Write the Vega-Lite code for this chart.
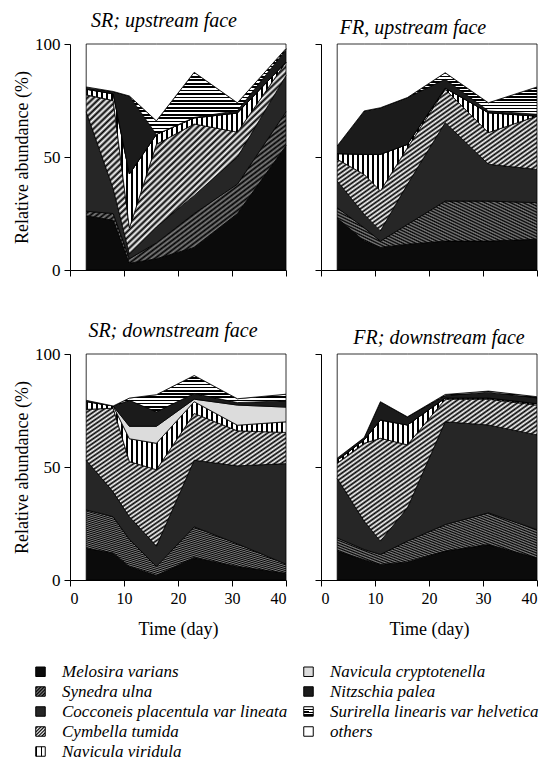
{
"$schema": "https://vega.github.io/schema/vega-lite/v6.json",
"padding": {"left": 13, "top": 11, "right": 4, "bottom": 4},
"params": [
{"name": "gSu", "value": {"gradient": "linear", "x1": 0, "y1": 0, "x2": 1, "y2": 1, "stops": [
{"offset":0,"color":"#000"},{"offset":0.008,"color":"#808080"},{"offset":0.016,"color":"#000"},{"offset":0.024,"color":"#808080"},{"offset":0.032,"color":"#000"},{"offset":0.04,"color":"#808080"},{"offset":0.048,"color":"#000"},{"offset":0.056,"color":"#808080"},{"offset":0.064,"color":"#000"},{"offset":0.072,"color":"#808080"},{"offset":0.08,"color":"#000"},{"offset":0.088,"color":"#808080"},{"offset":0.096,"color":"#000"},{"offset":0.104,"color":"#808080"},{"offset":0.112,"color":"#000"},{"offset":0.12,"color":"#808080"},{"offset":0.128,"color":"#000"},{"offset":0.136,"color":"#808080"},{"offset":0.144,"color":"#000"},{"offset":0.152,"color":"#808080"},{"offset":0.16,"color":"#000"},{"offset":0.168,"color":"#808080"},{"offset":0.176,"color":"#000"},{"offset":0.184,"color":"#808080"},{"offset":0.192,"color":"#000"},
{"offset":0.2,"color":"#808080"},{"offset":0.208,"color":"#000"},{"offset":0.216,"color":"#808080"},{"offset":0.224,"color":"#000"},{"offset":0.232,"color":"#808080"},{"offset":0.24,"color":"#000"},{"offset":0.248,"color":"#808080"},{"offset":0.256,"color":"#000"},{"offset":0.264,"color":"#808080"},{"offset":0.272,"color":"#000"},{"offset":0.28,"color":"#808080"},{"offset":0.288,"color":"#000"},{"offset":0.296,"color":"#808080"},{"offset":0.304,"color":"#000"},{"offset":0.312,"color":"#808080"},{"offset":0.32,"color":"#000"},{"offset":0.328,"color":"#808080"},{"offset":0.336,"color":"#000"},{"offset":0.344,"color":"#808080"},{"offset":0.352,"color":"#000"},{"offset":0.36,"color":"#808080"},{"offset":0.368,"color":"#000"},{"offset":0.376,"color":"#808080"},{"offset":0.384,"color":"#000"},{"offset":0.392,"color":"#808080"},
{"offset":0.4,"color":"#000"},{"offset":0.408,"color":"#808080"},{"offset":0.416,"color":"#000"},{"offset":0.424,"color":"#808080"},{"offset":0.432,"color":"#000"},{"offset":0.44,"color":"#808080"},{"offset":0.448,"color":"#000"},{"offset":0.456,"color":"#808080"},{"offset":0.464,"color":"#000"},{"offset":0.472,"color":"#808080"},{"offset":0.48,"color":"#000"},{"offset":0.488,"color":"#808080"},{"offset":0.496,"color":"#000"},{"offset":0.504,"color":"#808080"},{"offset":0.512,"color":"#000"},{"offset":0.52,"color":"#808080"},{"offset":0.528,"color":"#000"},{"offset":0.536,"color":"#808080"},{"offset":0.544,"color":"#000"},{"offset":0.552,"color":"#808080"},{"offset":0.56,"color":"#000"},{"offset":0.568,"color":"#808080"},{"offset":0.576,"color":"#000"},{"offset":0.584,"color":"#808080"},{"offset":0.592,"color":"#000"},
{"offset":0.6,"color":"#808080"},{"offset":0.608,"color":"#000"},{"offset":0.616,"color":"#808080"},{"offset":0.624,"color":"#000"},{"offset":0.632,"color":"#808080"},{"offset":0.64,"color":"#000"},{"offset":0.648,"color":"#808080"},{"offset":0.656,"color":"#000"},{"offset":0.664,"color":"#808080"},{"offset":0.672,"color":"#000"},{"offset":0.68,"color":"#808080"},{"offset":0.688,"color":"#000"},{"offset":0.696,"color":"#808080"},{"offset":0.704,"color":"#000"},{"offset":0.712,"color":"#808080"},{"offset":0.72,"color":"#000"},{"offset":0.728,"color":"#808080"},{"offset":0.736,"color":"#000"},{"offset":0.744,"color":"#808080"},{"offset":0.752,"color":"#000"},{"offset":0.76,"color":"#808080"},{"offset":0.768,"color":"#000"},{"offset":0.776,"color":"#808080"},{"offset":0.784,"color":"#000"},{"offset":0.792,"color":"#808080"},
{"offset":0.8,"color":"#000"},{"offset":0.808,"color":"#808080"},{"offset":0.816,"color":"#000"},{"offset":0.824,"color":"#808080"},{"offset":0.832,"color":"#000"},{"offset":0.84,"color":"#808080"},{"offset":0.848,"color":"#000"},{"offset":0.856,"color":"#808080"},{"offset":0.864,"color":"#000"},{"offset":0.872,"color":"#808080"},{"offset":0.88,"color":"#000"},{"offset":0.888,"color":"#808080"},{"offset":0.896,"color":"#000"},{"offset":0.904,"color":"#808080"},{"offset":0.912,"color":"#000"},{"offset":0.92,"color":"#808080"},{"offset":0.928,"color":"#000"},{"offset":0.936,"color":"#808080"},{"offset":0.944,"color":"#000"},{"offset":0.952,"color":"#808080"},{"offset":0.96,"color":"#000"},{"offset":0.968,"color":"#808080"},{"offset":0.976,"color":"#000"},{"offset":0.984,"color":"#808080"},{"offset":0.992,"color":"#000"},
{"offset":1,"color":"#808080"}
]}},
{"name": "gCt", "value": {"gradient": "linear", "x1": 0, "y1": 0, "x2": 1, "y2": 1, "stops": [
{"offset":0,"color":"#000"},{"offset":0.008,"color":"#fff"},{"offset":0.016,"color":"#000"},{"offset":0.024,"color":"#fff"},{"offset":0.032,"color":"#000"},{"offset":0.04,"color":"#fff"},{"offset":0.048,"color":"#000"},{"offset":0.056,"color":"#fff"},{"offset":0.064,"color":"#000"},{"offset":0.072,"color":"#fff"},{"offset":0.08,"color":"#000"},{"offset":0.088,"color":"#fff"},{"offset":0.096,"color":"#000"},{"offset":0.104,"color":"#fff"},{"offset":0.112,"color":"#000"},{"offset":0.12,"color":"#fff"},{"offset":0.128,"color":"#000"},{"offset":0.136,"color":"#fff"},{"offset":0.144,"color":"#000"},{"offset":0.152,"color":"#fff"},{"offset":0.16,"color":"#000"},{"offset":0.168,"color":"#fff"},{"offset":0.176,"color":"#000"},{"offset":0.184,"color":"#fff"},{"offset":0.192,"color":"#000"},
{"offset":0.2,"color":"#fff"},{"offset":0.208,"color":"#000"},{"offset":0.216,"color":"#fff"},{"offset":0.224,"color":"#000"},{"offset":0.232,"color":"#fff"},{"offset":0.24,"color":"#000"},{"offset":0.248,"color":"#fff"},{"offset":0.256,"color":"#000"},{"offset":0.264,"color":"#fff"},{"offset":0.272,"color":"#000"},{"offset":0.28,"color":"#fff"},{"offset":0.288,"color":"#000"},{"offset":0.296,"color":"#fff"},{"offset":0.304,"color":"#000"},{"offset":0.312,"color":"#fff"},{"offset":0.32,"color":"#000"},{"offset":0.328,"color":"#fff"},{"offset":0.336,"color":"#000"},{"offset":0.344,"color":"#fff"},{"offset":0.352,"color":"#000"},{"offset":0.36,"color":"#fff"},{"offset":0.368,"color":"#000"},{"offset":0.376,"color":"#fff"},{"offset":0.384,"color":"#000"},{"offset":0.392,"color":"#fff"},
{"offset":0.4,"color":"#000"},{"offset":0.408,"color":"#fff"},{"offset":0.416,"color":"#000"},{"offset":0.424,"color":"#fff"},{"offset":0.432,"color":"#000"},{"offset":0.44,"color":"#fff"},{"offset":0.448,"color":"#000"},{"offset":0.456,"color":"#fff"},{"offset":0.464,"color":"#000"},{"offset":0.472,"color":"#fff"},{"offset":0.48,"color":"#000"},{"offset":0.488,"color":"#fff"},{"offset":0.496,"color":"#000"},{"offset":0.504,"color":"#fff"},{"offset":0.512,"color":"#000"},{"offset":0.52,"color":"#fff"},{"offset":0.528,"color":"#000"},{"offset":0.536,"color":"#fff"},{"offset":0.544,"color":"#000"},{"offset":0.552,"color":"#fff"},{"offset":0.56,"color":"#000"},{"offset":0.568,"color":"#fff"},{"offset":0.576,"color":"#000"},{"offset":0.584,"color":"#fff"},{"offset":0.592,"color":"#000"},
{"offset":0.6,"color":"#fff"},{"offset":0.608,"color":"#000"},{"offset":0.616,"color":"#fff"},{"offset":0.624,"color":"#000"},{"offset":0.632,"color":"#fff"},{"offset":0.64,"color":"#000"},{"offset":0.648,"color":"#fff"},{"offset":0.656,"color":"#000"},{"offset":0.664,"color":"#fff"},{"offset":0.672,"color":"#000"},{"offset":0.68,"color":"#fff"},{"offset":0.688,"color":"#000"},{"offset":0.696,"color":"#fff"},{"offset":0.704,"color":"#000"},{"offset":0.712,"color":"#fff"},{"offset":0.72,"color":"#000"},{"offset":0.728,"color":"#fff"},{"offset":0.736,"color":"#000"},{"offset":0.744,"color":"#fff"},{"offset":0.752,"color":"#000"},{"offset":0.76,"color":"#fff"},{"offset":0.768,"color":"#000"},{"offset":0.776,"color":"#fff"},{"offset":0.784,"color":"#000"},{"offset":0.792,"color":"#fff"},
{"offset":0.8,"color":"#000"},{"offset":0.808,"color":"#fff"},{"offset":0.816,"color":"#000"},{"offset":0.824,"color":"#fff"},{"offset":0.832,"color":"#000"},{"offset":0.84,"color":"#fff"},{"offset":0.848,"color":"#000"},{"offset":0.856,"color":"#fff"},{"offset":0.864,"color":"#000"},{"offset":0.872,"color":"#fff"},{"offset":0.88,"color":"#000"},{"offset":0.888,"color":"#fff"},{"offset":0.896,"color":"#000"},{"offset":0.904,"color":"#fff"},{"offset":0.912,"color":"#000"},{"offset":0.92,"color":"#fff"},{"offset":0.928,"color":"#000"},{"offset":0.936,"color":"#fff"},{"offset":0.944,"color":"#000"},{"offset":0.952,"color":"#fff"},{"offset":0.96,"color":"#000"},{"offset":0.968,"color":"#fff"},{"offset":0.976,"color":"#000"},{"offset":0.984,"color":"#fff"},{"offset":0.992,"color":"#000"},
{"offset":1,"color":"#fff"}
]}},
{"name": "gNv", "value": {"gradient": "linear", "x1": 0, "y1": 0, "x2": 1, "y2": 0, "stops": [
{"offset":0,"color":"#000"},{"offset":0.008,"color":"#000"},{"offset":0.008,"color":"#fff"},{"offset":0.025,"color":"#fff"},{"offset":0.025,"color":"#000"},{"offset":0.033,"color":"#000"},{"offset":0.033,"color":"#fff"},{"offset":0.05,"color":"#fff"},
{"offset":0.05,"color":"#000"},{"offset":0.058,"color":"#000"},{"offset":0.058,"color":"#fff"},{"offset":0.075,"color":"#fff"},{"offset":0.075,"color":"#000"},{"offset":0.083,"color":"#000"},{"offset":0.083,"color":"#fff"},{"offset":0.1,"color":"#fff"},
{"offset":0.1,"color":"#000"},{"offset":0.108,"color":"#000"},{"offset":0.108,"color":"#fff"},{"offset":0.125,"color":"#fff"},{"offset":0.125,"color":"#000"},{"offset":0.133,"color":"#000"},{"offset":0.133,"color":"#fff"},{"offset":0.15,"color":"#fff"},
{"offset":0.15,"color":"#000"},{"offset":0.158,"color":"#000"},{"offset":0.158,"color":"#fff"},{"offset":0.175,"color":"#fff"},{"offset":0.175,"color":"#000"},{"offset":0.183,"color":"#000"},{"offset":0.183,"color":"#fff"},{"offset":0.2,"color":"#fff"},
{"offset":0.2,"color":"#000"},{"offset":0.208,"color":"#000"},{"offset":0.208,"color":"#fff"},{"offset":0.225,"color":"#fff"},{"offset":0.225,"color":"#000"},{"offset":0.233,"color":"#000"},{"offset":0.233,"color":"#fff"},{"offset":0.25,"color":"#fff"},
{"offset":0.25,"color":"#000"},{"offset":0.258,"color":"#000"},{"offset":0.258,"color":"#fff"},{"offset":0.275,"color":"#fff"},{"offset":0.275,"color":"#000"},{"offset":0.283,"color":"#000"},{"offset":0.283,"color":"#fff"},{"offset":0.3,"color":"#fff"},
{"offset":0.3,"color":"#000"},{"offset":0.308,"color":"#000"},{"offset":0.308,"color":"#fff"},{"offset":0.325,"color":"#fff"},{"offset":0.325,"color":"#000"},{"offset":0.333,"color":"#000"},{"offset":0.333,"color":"#fff"},{"offset":0.35,"color":"#fff"},
{"offset":0.35,"color":"#000"},{"offset":0.358,"color":"#000"},{"offset":0.358,"color":"#fff"},{"offset":0.375,"color":"#fff"},{"offset":0.375,"color":"#000"},{"offset":0.383,"color":"#000"},{"offset":0.383,"color":"#fff"},{"offset":0.4,"color":"#fff"},
{"offset":0.4,"color":"#000"},{"offset":0.408,"color":"#000"},{"offset":0.408,"color":"#fff"},{"offset":0.425,"color":"#fff"},{"offset":0.425,"color":"#000"},{"offset":0.433,"color":"#000"},{"offset":0.433,"color":"#fff"},{"offset":0.45,"color":"#fff"},
{"offset":0.45,"color":"#000"},{"offset":0.458,"color":"#000"},{"offset":0.458,"color":"#fff"},{"offset":0.475,"color":"#fff"},{"offset":0.475,"color":"#000"},{"offset":0.483,"color":"#000"},{"offset":0.483,"color":"#fff"},{"offset":0.5,"color":"#fff"},
{"offset":0.5,"color":"#000"},{"offset":0.508,"color":"#000"},{"offset":0.508,"color":"#fff"},{"offset":0.525,"color":"#fff"},{"offset":0.525,"color":"#000"},{"offset":0.533,"color":"#000"},{"offset":0.533,"color":"#fff"},{"offset":0.55,"color":"#fff"},
{"offset":0.55,"color":"#000"},{"offset":0.558,"color":"#000"},{"offset":0.558,"color":"#fff"},{"offset":0.575,"color":"#fff"},{"offset":0.575,"color":"#000"},{"offset":0.583,"color":"#000"},{"offset":0.583,"color":"#fff"},{"offset":0.6,"color":"#fff"},
{"offset":0.6,"color":"#000"},{"offset":0.608,"color":"#000"},{"offset":0.608,"color":"#fff"},{"offset":0.625,"color":"#fff"},{"offset":0.625,"color":"#000"},{"offset":0.633,"color":"#000"},{"offset":0.633,"color":"#fff"},{"offset":0.65,"color":"#fff"},
{"offset":0.65,"color":"#000"},{"offset":0.658,"color":"#000"},{"offset":0.658,"color":"#fff"},{"offset":0.675,"color":"#fff"},{"offset":0.675,"color":"#000"},{"offset":0.683,"color":"#000"},{"offset":0.683,"color":"#fff"},{"offset":0.7,"color":"#fff"},
{"offset":0.7,"color":"#000"},{"offset":0.708,"color":"#000"},{"offset":0.708,"color":"#fff"},{"offset":0.725,"color":"#fff"},{"offset":0.725,"color":"#000"},{"offset":0.733,"color":"#000"},{"offset":0.733,"color":"#fff"},{"offset":0.75,"color":"#fff"},
{"offset":0.75,"color":"#000"},{"offset":0.758,"color":"#000"},{"offset":0.758,"color":"#fff"},{"offset":0.775,"color":"#fff"},{"offset":0.775,"color":"#000"},{"offset":0.783,"color":"#000"},{"offset":0.783,"color":"#fff"},{"offset":0.8,"color":"#fff"},
{"offset":0.8,"color":"#000"},{"offset":0.808,"color":"#000"},{"offset":0.808,"color":"#fff"},{"offset":0.825,"color":"#fff"},{"offset":0.825,"color":"#000"},{"offset":0.833,"color":"#000"},{"offset":0.833,"color":"#fff"},{"offset":0.85,"color":"#fff"},
{"offset":0.85,"color":"#000"},{"offset":0.858,"color":"#000"},{"offset":0.858,"color":"#fff"},{"offset":0.875,"color":"#fff"},{"offset":0.875,"color":"#000"},{"offset":0.883,"color":"#000"},{"offset":0.883,"color":"#fff"},{"offset":0.9,"color":"#fff"},
{"offset":0.9,"color":"#000"},{"offset":0.908,"color":"#000"},{"offset":0.908,"color":"#fff"},{"offset":0.925,"color":"#fff"},{"offset":0.925,"color":"#000"},{"offset":0.933,"color":"#000"},{"offset":0.933,"color":"#fff"},{"offset":0.95,"color":"#fff"},
{"offset":0.95,"color":"#000"},{"offset":0.958,"color":"#000"},{"offset":0.958,"color":"#fff"},{"offset":0.975,"color":"#fff"},{"offset":0.975,"color":"#000"},{"offset":0.983,"color":"#000"},{"offset":0.983,"color":"#fff"},{"offset":1,"color":"#fff"}
]}},
{"name": "gSl", "value": {"gradient": "linear", "x1": 0, "y1": 0, "x2": 0.0001, "y2": 1, "stops": [
{"offset":0,"color":"#000"},{"offset":0.02,"color":"#000"},{"offset":0.02,"color":"#fff"},{"offset":0.04,"color":"#fff"},{"offset":0.04,"color":"#000"},{"offset":0.06,"color":"#000"},{"offset":0.06,"color":"#fff"},{"offset":0.08,"color":"#fff"},{"offset":0.08,"color":"#000"},{"offset":0.1,"color":"#000"},
{"offset":0.1,"color":"#fff"},{"offset":0.12,"color":"#fff"},{"offset":0.12,"color":"#000"},{"offset":0.14,"color":"#000"},{"offset":0.14,"color":"#fff"},{"offset":0.16,"color":"#fff"},{"offset":0.16,"color":"#000"},{"offset":0.18,"color":"#000"},{"offset":0.18,"color":"#fff"},{"offset":0.2,"color":"#fff"},
{"offset":0.2,"color":"#000"},{"offset":0.22,"color":"#000"},{"offset":0.22,"color":"#fff"},{"offset":0.24,"color":"#fff"},{"offset":0.24,"color":"#000"},{"offset":0.26,"color":"#000"},{"offset":0.26,"color":"#fff"},{"offset":0.28,"color":"#fff"},{"offset":0.28,"color":"#000"},{"offset":0.3,"color":"#000"},
{"offset":0.3,"color":"#fff"},{"offset":0.32,"color":"#fff"},{"offset":0.32,"color":"#000"},{"offset":0.34,"color":"#000"},{"offset":0.34,"color":"#fff"},{"offset":0.36,"color":"#fff"},{"offset":0.36,"color":"#000"},{"offset":0.38,"color":"#000"},{"offset":0.38,"color":"#fff"},{"offset":0.4,"color":"#fff"},
{"offset":0.4,"color":"#000"},{"offset":0.42,"color":"#000"},{"offset":0.42,"color":"#fff"},{"offset":0.44,"color":"#fff"},{"offset":0.44,"color":"#000"},{"offset":0.46,"color":"#000"},{"offset":0.46,"color":"#fff"},{"offset":0.48,"color":"#fff"},{"offset":0.48,"color":"#000"},{"offset":0.5,"color":"#000"},
{"offset":0.5,"color":"#fff"},{"offset":0.52,"color":"#fff"},{"offset":0.52,"color":"#000"},{"offset":0.54,"color":"#000"},{"offset":0.54,"color":"#fff"},{"offset":0.56,"color":"#fff"},{"offset":0.56,"color":"#000"},{"offset":0.58,"color":"#000"},{"offset":0.58,"color":"#fff"},{"offset":0.6,"color":"#fff"},
{"offset":0.6,"color":"#000"},{"offset":0.62,"color":"#000"},{"offset":0.62,"color":"#fff"},{"offset":0.64,"color":"#fff"},{"offset":0.64,"color":"#000"},{"offset":0.66,"color":"#000"},{"offset":0.66,"color":"#fff"},{"offset":0.68,"color":"#fff"},{"offset":0.68,"color":"#000"},{"offset":0.7,"color":"#000"},
{"offset":0.7,"color":"#fff"},{"offset":0.72,"color":"#fff"},{"offset":0.72,"color":"#000"},{"offset":0.74,"color":"#000"},{"offset":0.74,"color":"#fff"},{"offset":0.76,"color":"#fff"},{"offset":0.76,"color":"#000"},{"offset":0.78,"color":"#000"},{"offset":0.78,"color":"#fff"},{"offset":0.8,"color":"#fff"},
{"offset":0.8,"color":"#000"},{"offset":0.82,"color":"#000"},{"offset":0.82,"color":"#fff"},{"offset":0.84,"color":"#fff"},{"offset":0.84,"color":"#000"},{"offset":0.86,"color":"#000"},{"offset":0.86,"color":"#fff"},{"offset":0.88,"color":"#fff"},{"offset":0.88,"color":"#000"},{"offset":0.9,"color":"#000"},
{"offset":0.9,"color":"#fff"},{"offset":0.92,"color":"#fff"},{"offset":0.92,"color":"#000"},{"offset":0.94,"color":"#000"},{"offset":0.94,"color":"#fff"},{"offset":0.96,"color":"#fff"},{"offset":0.96,"color":"#000"},{"offset":0.98,"color":"#000"},{"offset":0.98,"color":"#fff"},{"offset":1,"color":"#fff"}
]}}
],
"datasets": {
"sp": [
{"s":"Mv","name":"Melosira varians","rank":1},
{"s":"Su","name":"Synedra ulna","rank":2},
{"s":"Cp","name":"Cocconeis placentula var lineata","rank":3},
{"s":"Ct","name":"Cymbella tumida","rank":4},
{"s":"Nv","name":"Navicula viridula","rank":5},
{"s":"Nc","name":"Navicula cryptotenella","rank":6},
{"s":"Np","name":"Nitzschia palea","rank":7},
{"s":"Sl","name":"Surirella linearis var helvetica","rank":8},
{"s":"ot","name":"others","rank":9}
],
"ab": [
{"p":"SRu","d":3,"s":"Mv","v":24},{"p":"SRu","d":8,"s":"Mv","v":22},{"p":"SRu","d":11,"s":"Mv","v":3},{"p":"SRu","d":16,"s":"Mv","v":5},{"p":"SRu","d":23,"s":"Mv","v":10},{"p":"SRu","d":31,"s":"Mv","v":25},{"p":"SRu","d":40,"s":"Mv","v":55},
{"p":"SRu","d":3,"s":"Su","v":2},{"p":"SRu","d":8,"s":"Su","v":3},{"p":"SRu","d":11,"s":"Su","v":2},{"p":"SRu","d":16,"s":"Su","v":7},{"p":"SRu","d":23,"s":"Su","v":15},{"p":"SRu","d":31,"s":"Su","v":13},{"p":"SRu","d":40,"s":"Su","v":15},
{"p":"SRu","d":3,"s":"Cp","v":44},{"p":"SRu","d":8,"s":"Cp","v":11},{"p":"SRu","d":11,"s":"Cp","v":2},{"p":"SRu","d":16,"s":"Cp","v":7},{"p":"SRu","d":23,"s":"Cp","v":8},{"p":"SRu","d":31,"s":"Cp","v":12},{"p":"SRu","d":40,"s":"Cp","v":16},
{"p":"SRu","d":3,"s":"Ct","v":7.5},{"p":"SRu","d":8,"s":"Ct","v":39},{"p":"SRu","d":11,"s":"Ct","v":11.6},{"p":"SRu","d":16,"s":"Ct","v":36.6},{"p":"SRu","d":23,"s":"Ct","v":31.6},{"p":"SRu","d":31,"s":"Ct","v":11},{"p":"SRu","d":40,"s":"Ct","v":6},
{"p":"SRu","d":3,"s":"Nv","v":2.5},{"p":"SRu","d":8,"s":"Nv","v":3},{"p":"SRu","d":11,"s":"Nv","v":23.9},{"p":"SRu","d":16,"s":"Nv","v":4.4},{"p":"SRu","d":23,"s":"Nv","v":2.7},{"p":"SRu","d":31,"s":"Nv","v":8.5},{"p":"SRu","d":40,"s":"Nv","v":0},
{"p":"SRu","d":3,"s":"Nc","v":0},{"p":"SRu","d":8,"s":"Nc","v":0},{"p":"SRu","d":11,"s":"Nc","v":0},{"p":"SRu","d":16,"s":"Nc","v":0},{"p":"SRu","d":23,"s":"Nc","v":0},{"p":"SRu","d":31,"s":"Nc","v":0},{"p":"SRu","d":40,"s":"Nc","v":0},
{"p":"SRu","d":3,"s":"Np","v":0.5},{"p":"SRu","d":8,"s":"Np","v":1},{"p":"SRu","d":11,"s":"Np","v":34.5},{"p":"SRu","d":16,"s":"Np","v":0},{"p":"SRu","d":23,"s":"Np","v":0.2},{"p":"SRu","d":31,"s":"Np","v":1},{"p":"SRu","d":40,"s":"Np","v":5.5},
{"p":"SRu","d":3,"s":"Sl","v":0.5},{"p":"SRu","d":8,"s":"Sl","v":0},{"p":"SRu","d":11,"s":"Sl","v":0},{"p":"SRu","d":16,"s":"Sl","v":6},{"p":"SRu","d":23,"s":"Sl","v":20},{"p":"SRu","d":31,"s":"Sl","v":3.5},{"p":"SRu","d":40,"s":"Sl","v":0.5},
{"p":"SRu","d":3,"s":"ot","v":19},{"p":"SRu","d":8,"s":"ot","v":21},{"p":"SRu","d":11,"s":"ot","v":23},{"p":"SRu","d":16,"s":"ot","v":34},{"p":"SRu","d":23,"s":"ot","v":12.5},{"p":"SRu","d":31,"s":"ot","v":26},{"p":"SRu","d":40,"s":"ot","v":2},
{"p":"FRu","d":3,"s":"Mv","v":23},{"p":"FRu","d":8,"s":"Mv","v":12.8},{"p":"FRu","d":11,"s":"Mv","v":10},{"p":"FRu","d":16,"s":"Mv","v":11.4},{"p":"FRu","d":23,"s":"Mv","v":12.8},{"p":"FRu","d":31,"s":"Mv","v":12.8},{"p":"FRu","d":40,"s":"Mv","v":13.6},
{"p":"FRu","d":3,"s":"Su","v":4.6},{"p":"FRu","d":8,"s":"Su","v":5.9},{"p":"FRu","d":11,"s":"Su","v":2.8},{"p":"FRu","d":16,"s":"Su","v":8.8},{"p":"FRu","d":23,"s":"Su","v":17.7},{"p":"FRu","d":31,"s":"Su","v":17.7},{"p":"FRu","d":40,"s":"Su","v":16.2},
{"p":"FRu","d":3,"s":"Cp","v":11.8},{"p":"FRu","d":8,"s":"Cp","v":5.9},{"p":"FRu","d":11,"s":"Cp","v":4.5},{"p":"FRu","d":16,"s":"Cp","v":17.7},{"p":"FRu","d":23,"s":"Cp","v":34.7},{"p":"FRu","d":31,"s":"Cp","v":16.3},{"p":"FRu","d":40,"s":"Cp","v":14.7},
{"p":"FRu","d":3,"s":"Ct","v":9.6},{"p":"FRu","d":8,"s":"Ct","v":17.7},{"p":"FRu","d":11,"s":"Ct","v":17.7},{"p":"FRu","d":16,"s":"Ct","v":16.2},{"p":"FRu","d":23,"s":"Ct","v":14.8},{"p":"FRu","d":31,"s":"Ct","v":14},{"p":"FRu","d":40,"s":"Ct","v":23.6},
{"p":"FRu","d":3,"s":"Nv","v":2.5},{"p":"FRu","d":8,"s":"Nv","v":8.9},{"p":"FRu","d":11,"s":"Nv","v":16.2},{"p":"FRu","d":16,"s":"Nv","v":1.5},{"p":"FRu","d":23,"s":"Nv","v":0.5},{"p":"FRu","d":31,"s":"Nv","v":8.8},{"p":"FRu","d":40,"s":"Nv","v":0},
{"p":"FRu","d":3,"s":"Nc","v":0},{"p":"FRu","d":8,"s":"Nc","v":0},{"p":"FRu","d":11,"s":"Nc","v":0},{"p":"FRu","d":16,"s":"Nc","v":0},{"p":"FRu","d":23,"s":"Nc","v":0},{"p":"FRu","d":31,"s":"Nc","v":0},{"p":"FRu","d":40,"s":"Nc","v":0},
{"p":"FRu","d":3,"s":"Np","v":3.4},{"p":"FRu","d":8,"s":"Np","v":19.2},{"p":"FRu","d":11,"s":"Np","v":20.6},{"p":"FRu","d":16,"s":"Np","v":20.7},{"p":"FRu","d":23,"s":"Np","v":3.9},{"p":"FRu","d":31,"s":"Np","v":0.8},{"p":"FRu","d":40,"s":"Np","v":0.8},
{"p":"FRu","d":3,"s":"Sl","v":0},{"p":"FRu","d":8,"s":"Sl","v":0},{"p":"FRu","d":11,"s":"Sl","v":0},{"p":"FRu","d":16,"s":"Sl","v":0},{"p":"FRu","d":23,"s":"Sl","v":2.9},{"p":"FRu","d":31,"s":"Sl","v":3.6},{"p":"FRu","d":40,"s":"Sl","v":12.1},
{"p":"FRu","d":3,"s":"ot","v":45.1},{"p":"FRu","d":8,"s":"ot","v":29.6},{"p":"FRu","d":11,"s":"ot","v":28.2},{"p":"FRu","d":16,"s":"ot","v":23.7},{"p":"FRu","d":23,"s":"ot","v":12.7},{"p":"FRu","d":31,"s":"ot","v":26},{"p":"FRu","d":40,"s":"ot","v":19},
{"p":"SRd","d":3,"s":"Mv","v":14},{"p":"SRd","d":8,"s":"Mv","v":12},{"p":"SRd","d":11,"s":"Mv","v":6},{"p":"SRd","d":16,"s":"Mv","v":2},{"p":"SRd","d":23,"s":"Mv","v":10},{"p":"SRd","d":31,"s":"Mv","v":6},{"p":"SRd","d":40,"s":"Mv","v":3},
{"p":"SRd","d":3,"s":"Su","v":17},{"p":"SRd","d":8,"s":"Su","v":16},{"p":"SRd","d":11,"s":"Su","v":12},{"p":"SRd","d":16,"s":"Su","v":4},{"p":"SRd","d":23,"s":"Su","v":13.5},{"p":"SRd","d":31,"s":"Su","v":10},{"p":"SRd","d":40,"s":"Su","v":4},
{"p":"SRd","d":3,"s":"Cp","v":22},{"p":"SRd","d":8,"s":"Cp","v":11},{"p":"SRd","d":11,"s":"Cp","v":10},{"p":"SRd","d":16,"s":"Cp","v":9},{"p":"SRd","d":23,"s":"Cp","v":29.5},{"p":"SRd","d":31,"s":"Cp","v":34.5},{"p":"SRd","d":40,"s":"Cp","v":44.5},
{"p":"SRd","d":3,"s":"Ct","v":22.5},{"p":"SRd","d":8,"s":"Ct","v":37},{"p":"SRd","d":11,"s":"Ct","v":24.4},{"p":"SRd","d":16,"s":"Ct","v":33.8},{"p":"SRd","d":23,"s":"Ct","v":20.7},{"p":"SRd","d":31,"s":"Ct","v":15.5},{"p":"SRd","d":40,"s":"Ct","v":13.8},
{"p":"SRd","d":3,"s":"Nv","v":3.5},{"p":"SRd","d":8,"s":"Nv","v":1},{"p":"SRd","d":11,"s":"Nv","v":10.1},{"p":"SRd","d":16,"s":"Nv","v":11.7},{"p":"SRd","d":23,"s":"Nv","v":5.2},{"p":"SRd","d":31,"s":"Nv","v":2.5},{"p":"SRd","d":40,"s":"Nv","v":4.7},
{"p":"SRd","d":3,"s":"Nc","v":0},{"p":"SRd","d":8,"s":"Nc","v":0},{"p":"SRd","d":11,"s":"Nc","v":5.5},{"p":"SRd","d":16,"s":"Nc","v":7.5},{"p":"SRd","d":23,"s":"Nc","v":1.1},{"p":"SRd","d":31,"s":"Nc","v":8.9},{"p":"SRd","d":40,"s":"Nc","v":6.5},
{"p":"SRd","d":3,"s":"Np","v":0.2},{"p":"SRd","d":8,"s":"Np","v":0},{"p":"SRd","d":11,"s":"Np","v":11.5},{"p":"SRd","d":16,"s":"Np","v":6.4},{"p":"SRd","d":23,"s":"Np","v":2.5},{"p":"SRd","d":31,"s":"Np","v":1.1},{"p":"SRd","d":40,"s":"Np","v":2.8},
{"p":"SRd","d":3,"s":"Sl","v":0.3},{"p":"SRd","d":8,"s":"Sl","v":0},{"p":"SRd","d":11,"s":"Sl","v":1},{"p":"SRd","d":16,"s":"Sl","v":7.6},{"p":"SRd","d":23,"s":"Sl","v":8},{"p":"SRd","d":31,"s":"Sl","v":1.7},{"p":"SRd","d":40,"s":"Sl","v":2.9},
{"p":"SRd","d":3,"s":"ot","v":20.5},{"p":"SRd","d":8,"s":"ot","v":23},{"p":"SRd","d":11,"s":"ot","v":19.5},{"p":"SRd","d":16,"s":"ot","v":18},{"p":"SRd","d":23,"s":"ot","v":9.5},{"p":"SRd","d":31,"s":"ot","v":19.8},{"p":"SRd","d":40,"s":"ot","v":17.8},
{"p":"FRd","d":3,"s":"Mv","v":12.8},{"p":"FRd","d":8,"s":"Mv","v":9},{"p":"FRd","d":11,"s":"Mv","v":6.9},{"p":"FRd","d":16,"s":"Mv","v":8},{"p":"FRd","d":23,"s":"Mv","v":12.8},{"p":"FRd","d":31,"s":"Mv","v":15.7},{"p":"FRd","d":40,"s":"Mv","v":9.8},
{"p":"FRd","d":3,"s":"Su","v":5.8},{"p":"FRd","d":8,"s":"Su","v":4.5},{"p":"FRd","d":11,"s":"Su","v":4.4},{"p":"FRd","d":16,"s":"Su","v":9.2},{"p":"FRd","d":23,"s":"Su","v":11.7},{"p":"FRd","d":31,"s":"Su","v":14},{"p":"FRd","d":40,"s":"Su","v":12.5},
{"p":"FRd","d":3,"s":"Cp","v":26.4},{"p":"FRd","d":8,"s":"Cp","v":12.5},{"p":"FRd","d":11,"s":"Cp","v":5.9},{"p":"FRd","d":16,"s":"Cp","v":14.7},{"p":"FRd","d":23,"s":"Cp","v":45.5},{"p":"FRd","d":31,"s":"Cp","v":38.9},{"p":"FRd","d":40,"s":"Cp","v":41.9},
{"p":"FRd","d":3,"s":"Ct","v":6.7},{"p":"FRd","d":8,"s":"Ct","v":34.5},{"p":"FRd","d":11,"s":"Ct","v":45.5},{"p":"FRd","d":16,"s":"Ct","v":27.9},{"p":"FRd","d":23,"s":"Ct","v":10},{"p":"FRd","d":31,"s":"Ct","v":11.4},{"p":"FRd","d":40,"s":"Ct","v":13.2},
{"p":"FRd","d":3,"s":"Nv","v":1.3},{"p":"FRd","d":8,"s":"Nv","v":1.5},{"p":"FRd","d":11,"s":"Nv","v":8.1},{"p":"FRd","d":16,"s":"Nv","v":8.8},{"p":"FRd","d":23,"s":"Nv","v":0.5},{"p":"FRd","d":31,"s":"Nv","v":0.5},{"p":"FRd","d":40,"s":"Nv","v":0.6},
{"p":"FRd","d":3,"s":"Nc","v":0},{"p":"FRd","d":8,"s":"Nc","v":0},{"p":"FRd","d":11,"s":"Nc","v":0},{"p":"FRd","d":16,"s":"Nc","v":0},{"p":"FRd","d":23,"s":"Nc","v":0},{"p":"FRd","d":31,"s":"Nc","v":0},{"p":"FRd","d":40,"s":"Nc","v":0},
{"p":"FRd","d":3,"s":"Np","v":0.9},{"p":"FRd","d":8,"s":"Np","v":1},{"p":"FRd","d":11,"s":"Np","v":8.1},{"p":"FRd","d":16,"s":"Np","v":3.6},{"p":"FRd","d":23,"s":"Np","v":1.1},{"p":"FRd","d":31,"s":"Np","v":2.6},{"p":"FRd","d":40,"s":"Np","v":2.6},
{"p":"FRd","d":3,"s":"Sl","v":0},{"p":"FRd","d":8,"s":"Sl","v":0},{"p":"FRd","d":11,"s":"Sl","v":0},{"p":"FRd","d":16,"s":"Sl","v":0},{"p":"FRd","d":23,"s":"Sl","v":0.5},{"p":"FRd","d":31,"s":"Sl","v":0.5},{"p":"FRd","d":40,"s":"Sl","v":0.5},
{"p":"FRd","d":3,"s":"ot","v":46.1},{"p":"FRd","d":8,"s":"ot","v":37},{"p":"FRd","d":11,"s":"ot","v":21.1},{"p":"FRd","d":16,"s":"ot","v":27.8},{"p":"FRd","d":23,"s":"ot","v":17.9},{"p":"FRd","d":31,"s":"ot","v":16.4},{"p":"FRd","d":40,"s":"ot","v":18.9}
]
},
"data": {"name": "ab"},
"columns": 2,
"spacing": {"row": 43, "column": 26},
"concat": [
{
"title": {"text": "SR; upstream face", "dx": -14},
"width": 216, "height": 226,
"transform": [{"filter": "datum.p == 'SRu'"}, {"lookup": "s", "from": {"data": {"name": "sp"}, "key": "s", "fields": ["name", "rank"]}}],
"mark": {"type": "area", "stroke": "black", "strokeWidth": 0.8},
"encoding": {
"x": {"field": "d", "type": "quantitative", "scale": {"domain": [0, 40], "nice": false}, "axis": {"values": [0, 10, 20, 30, 40], "labels": false, "title": null}},
"y": {"field": "v", "type": "quantitative", "stack": "zero", "scale": {"domain": [0, 100], "nice": false}, "axis": {"values": [0, 50, 100], "title": "Relative abundance (%)"}},
"color": {"field": "name", "type": "nominal", "scale": {"domain": ["Melosira varians", "Synedra ulna", "Cocconeis placentula var lineata", "Cymbella tumida", "Navicula viridula", "Navicula cryptotenella", "Nitzschia palea", "Surirella linearis var helvetica", "others"], "range": ["#0b0b0b", {"expr": "gSu"}, "#262626", {"expr": "gCt"}, {"expr": "gNv"}, "#dcdcdc", "#1b1b1b", {"expr": "gSl"}, "#ffffff"]}},
"order": {"field": "rank", "type": "quantitative"}
}
},
{
"title": {"text": "FR, upstream face", "dx": -16},
"width": 216, "height": 226,
"transform": [{"filter": "datum.p == 'FRu'"}, {"lookup": "s", "from": {"data": {"name": "sp"}, "key": "s", "fields": ["name", "rank"]}}],
"mark": {"type": "area", "stroke": "black", "strokeWidth": 0.8},
"encoding": {
"x": {"field": "d", "type": "quantitative", "scale": {"domain": [0, 40], "nice": false}, "axis": {"values": [0, 10, 20, 30, 40], "labels": false, "title": null}},
"y": {"field": "v", "type": "quantitative", "stack": "zero", "scale": {"domain": [0, 100], "nice": false}, "axis": {"values": [0, 50, 100], "labels": false, "title": null}},
"color": {"field": "name", "type": "nominal", "scale": {"domain": ["Melosira varians", "Synedra ulna", "Cocconeis placentula var lineata", "Cymbella tumida", "Navicula viridula", "Navicula cryptotenella", "Nitzschia palea", "Surirella linearis var helvetica", "others"], "range": ["#0b0b0b", {"expr": "gSu"}, "#262626", {"expr": "gCt"}, {"expr": "gNv"}, "#dcdcdc", "#1b1b1b", {"expr": "gSl"}, "#ffffff"]}},
"order": {"field": "rank", "type": "quantitative"}
}
},
{
"title": {"text": "SR; downstream face", "dx": -5},
"width": 216, "height": 226,
"transform": [{"filter": "datum.p == 'SRd'"}, {"lookup": "s", "from": {"data": {"name": "sp"}, "key": "s", "fields": ["name", "rank"]}}],
"mark": {"type": "area", "stroke": "black", "strokeWidth": 0.8},
"encoding": {
"x": {"field": "d", "type": "quantitative", "scale": {"domain": [0, 40], "nice": false}, "axis": {"values": [0, 10, 20, 30, 40], "title": "Time (day)"}},
"y": {"field": "v", "type": "quantitative", "stack": "zero", "scale": {"domain": [0, 100], "nice": false}, "axis": {"values": [0, 50, 100], "title": "Relative abundance (%)"}},
"color": {"field": "name", "type": "nominal", "scale": {"domain": ["Melosira varians", "Synedra ulna", "Cocconeis placentula var lineata", "Cymbella tumida", "Navicula viridula", "Navicula cryptotenella", "Nitzschia palea", "Surirella linearis var helvetica", "others"], "range": ["#0b0b0b", {"expr": "gSu"}, "#262626", {"expr": "gCt"}, {"expr": "gNv"}, "#dcdcdc", "#1b1b1b", {"expr": "gSl"}, "#ffffff"]}},
"order": {"field": "rank", "type": "quantitative"}
}
},
{
"title": {"text": "FR; downstream face", "dx": 10},
"width": 216, "height": 226,
"transform": [{"filter": "datum.p == 'FRd'"}, {"lookup": "s", "from": {"data": {"name": "sp"}, "key": "s", "fields": ["name", "rank"]}}],
"mark": {"type": "area", "stroke": "black", "strokeWidth": 0.8},
"encoding": {
"x": {"field": "d", "type": "quantitative", "scale": {"domain": [0, 40], "nice": false}, "axis": {"values": [0, 10, 20, 30, 40], "title": "Time (day)"}},
"y": {"field": "v", "type": "quantitative", "stack": "zero", "scale": {"domain": [0, 100], "nice": false}, "axis": {"values": [0, 50, 100], "labels": false, "title": null}},
"color": {"field": "name", "type": "nominal", "scale": {"domain": ["Melosira varians", "Synedra ulna", "Cocconeis placentula var lineata", "Cymbella tumida", "Navicula viridula", "Navicula cryptotenella", "Nitzschia palea", "Surirella linearis var helvetica", "others"], "range": ["#0b0b0b", {"expr": "gSu"}, "#262626", {"expr": "gCt"}, {"expr": "gNv"}, "#dcdcdc", "#1b1b1b", {"expr": "gSl"}, "#ffffff"]}},
"order": {"field": "rank", "type": "quantitative"}
}
}
],
"config": {
"font": "Liberation Serif",
"view": {"stroke": null},
"axis": {"grid": false, "domainColor": "black", "tickColor": "black", "labelColor": "black", "titleColor": "black", "labelFont": "Liberation Serif", "titleFont": "Liberation Serif", "titleFontSize": 18, "titleFontWeight": "normal", "tickSize": 6, "labelPadding": 4, "domainWidth": 1, "tickWidth": 1},
"axisX": {"labelFontSize": 16, "titlePadding": 14},
"axisY": {"labelFontSize": 17, "titlePadding": 3},
"title": {"font": "Liberation Serif", "fontStyle": "italic", "fontWeight": "normal", "fontSize": 20, "color": "black", "anchor": "middle", "frame": "group", "offset": 4},
"legend": {"orient": "none", "legendX": -38, "legendY": 619, "columns": 2, "columnPadding": 12, "rowPadding": 2, "title": null, "symbolType": "square", "symbolSize": 90, "symbolStrokeColor": "black", "symbolStrokeWidth": 1, "symbolOpacity": 1, "labelFont": "Liberation Serif", "labelFontStyle": "italic", "labelFontSize": 17, "labelColor": "black", "labelOffset": 13, "labelLimit": 400}
}
}
